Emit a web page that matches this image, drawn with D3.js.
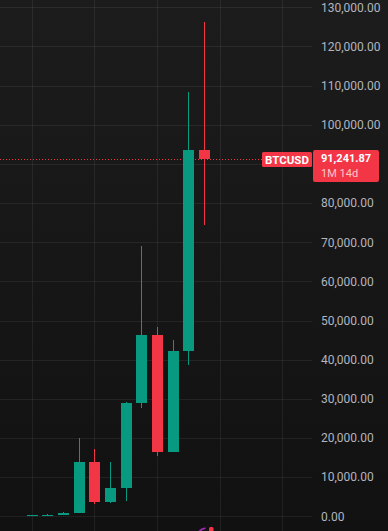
<!DOCTYPE html>
<html>
<head>
<meta charset="utf-8">
<script src="https://cdn.jsdelivr.net/npm/d3@7"></script>
<style>
  html, body { margin: 0; padding: 0; background: #131313; overflow: hidden; }
  svg { display: block; }
</style>
</head>
<body>
<svg id="chart" width="388" height="531"></svg>
<script>
// ---- data (yearly BTCUSD candles) ----
const years  = [2014, 2015, 2016, 2017, 2018, 2019, 2020, 2021, 2022, 2023, 2024, 2025];
const opens  = [300, 318, 430, 966, 13880, 3693, 7193, 28990, 46220, 16550, 42270, 93450];
const highs  = [360, 504, 981, 19970, 17180, 13880, 29300, 69000, 48400, 45000, 108350, 126200];
const lows   = [290, 152, 350, 752, 3122, 3350, 3850, 27700, 15400, 16490, 38550, 74420];
const closes = [330, 430, 966, 13880, 3693, 7193, 28990, 46220, 16550, 42270, 93450, 91241.87];
const priceTicks = [0, 10000, 20000, 30000, 40000, 50000, 60000, 70000, 80000, 90000, 100000, 110000, 120000, 130000];
const gridYears = [2010, 2014, 2018, 2022, 2026, 2030];
const symbol = "BTCUSD";
const lastPrice = 91241.87;
const countdown = "1M 14d";

// ---- layout ----
const W = 388, H = 531;
const plotRight = 312;
const up = "#089981", down = "#f23645";

const svg = d3.select("#chart");
const defs = svg.append("defs");
const bg = defs.append("linearGradient").attr("id", "bg").attr("x1", 0).attr("y1", 0).attr("x2", 0).attr("y2", 1);
bg.append("stop").attr("offset", "0%").attr("stop-color", "#1c1c1c");
bg.append("stop").attr("offset", "100%").attr("stop-color", "#111111");
svg.append("rect").attr("width", W).attr("height", H).attr("fill", "url(#bg)");

const y = d3.scaleLinear().domain([0, 130000]).range([516.3, 7.3]);
const x = d3.scaleLinear().domain([2014, 2025]).range([32.3, 204.5]);

// grid
const grid = svg.append("g").attr("stroke", "rgba(242,242,242,0.07)").attr("stroke-width", 1).attr("shape-rendering", "crispEdges");
grid.selectAll(".hg").data(priceTicks).join("line")
  .attr("x1", 0).attr("x2", plotRight)
  .attr("y1", d => Math.round(y(d)) + 0.5).attr("y2", d => Math.round(y(d)) + 0.5);
grid.selectAll(".vg").data(gridYears).join("line")
  .attr("y1", 0).attr("y2", H)
  .attr("x1", d => Math.floor(x(d)) + 0.5).attr("x2", d => Math.floor(x(d)) + 0.5);

// price line (dotted)
svg.append("line")
  .attr("x1", 0).attr("x2", plotRight)
  .attr("y1", Math.round(y(lastPrice)) + 0.5).attr("y2", Math.round(y(lastPrice)) + 0.5)
  .attr("stroke", down).attr("stroke-width", 1).attr("stroke-dasharray", "1,2")
  .attr("shape-rendering", "crispEdges");

// candles
const candles = years.map((yr, i) => ({ yr, o: opens[i], h: highs[i], l: lows[i], c: closes[i] }));
const cg = svg.append("g").attr("shape-rendering", "crispEdges");
const bodyW = 11;
cg.selectAll(".wick").data(candles).join("rect")
  .attr("x", d => Math.floor(x(d.yr)))
  .attr("width", 1)
  .attr("y", d => Math.round(y(d.h)))
  .attr("height", d => Math.max(1, Math.round(y(d.l)) - Math.round(y(d.h))))
  .attr("fill", d => d.c >= d.o ? up : down);
cg.selectAll(".body").data(candles).join("rect")
  .attr("x", d => Math.floor(x(d.yr)) - 5)
  .attr("width", bodyW)
  .attr("y", d => Math.round(y(Math.max(d.o, d.c))))
  .attr("height", d => Math.max(1, Math.round(y(Math.min(d.o, d.c))) - Math.round(y(Math.max(d.o, d.c)))))
  .attr("fill", d => d.c >= d.o ? up : down);

// price axis labels (the one hidden by the last-price label is skipped)
const py = y(lastPrice);
const labelTicks = priceTicks.filter(t => Math.abs(y(t) - py) > 14);
const axis = d3.axisRight(y).tickValues(labelTicks).tickSize(0).tickPadding(0).tickFormat(d3.format(",.2f"));
const ag = svg.append("g").attr("transform", `translate(321,0)`).call(axis);
ag.select(".domain").remove();
ag.selectAll("text")
  .attr("fill", "#b2b5be")
  .attr("font-family", "Roboto, sans-serif")
  .attr("font-size", "12px")
  .attr("x", 0);

// symbol label
svg.append("rect").attr("x", 262).attr("y", 152).attr("width", 50).attr("height", 15).attr("rx", 1.5).attr("fill", down);
svg.append("text").attr("x", 287).attr("y", py + 0.5).attr("dy", "0.35em")
  .attr("text-anchor", "middle").attr("fill", "#ffffff")
  .attr("font-family", "Roboto, sans-serif").attr("font-weight", "bold").attr("font-size", "11.5px")
  .text(symbol);

// last price label
svg.append("rect").attr("x", 313).attr("y", 150).attr("width", 66).attr("height", 32).attr("rx", 2).attr("fill", down);
svg.append("text").attr("x", 321).attr("y", 158.3).attr("dy", "0.35em")
  .attr("fill", "#ffffff")
  .attr("font-family", "Roboto, sans-serif").attr("font-weight", "bold").attr("font-size", "11px")
  .text(d3.format(",.2f")(lastPrice));
svg.append("text").attr("x", 321).attr("y", 173.3).attr("dy", "0.35em")
  .attr("fill", "rgba(255,255,255,0.72)")
  .attr("font-family", "Roboto, sans-serif").attr("font-size", "11px")
  .text(countdown);

// small icon partly visible at bottom
const arc = d3.arc().innerRadius(9).outerRadius(11).startAngle(-Math.PI * 0.42).endAngle(-Math.PI * 0.05);
svg.append("path").attr("d", arc()).attr("transform", "translate(207,538)").attr("fill", "#9c27b0");
svg.append("rect").attr("x", 209).attr("y", 527).attr("width", 4.5).attr("height", 6).attr("rx", 1.5).attr("fill", down);
</script>
</body>
</html>
